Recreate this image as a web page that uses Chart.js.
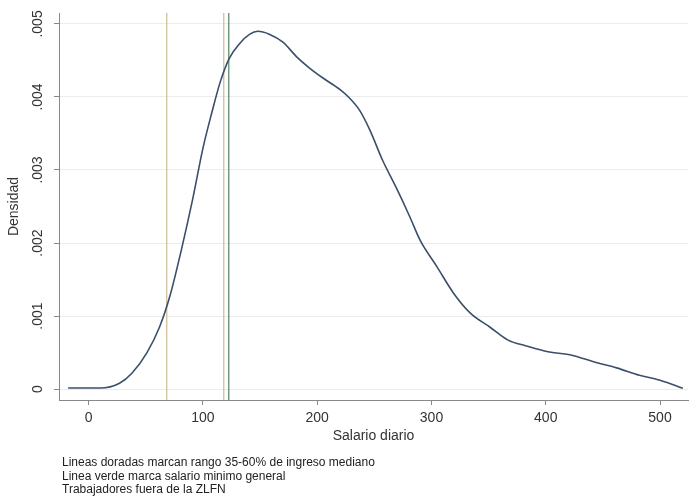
<!DOCTYPE html>
<html>
<head>
<meta charset="utf-8">
<script src="https://cdn.jsdelivr.net/npm/chart.js@4/dist/chart.umd.min.js"></script>
<style>
  html, body { margin: 0; padding: 0; background: #fff; }
  #wrap { width: 690px; height: 504px; }
</style>
</head>
<body>
<div id="wrap"><canvas id="chart" width="690" height="504"></canvas></div>
<script>
// kernel density of salario diario
var salario = [-18, 10, 27, 38, 51, 62, 71, 81, 91, 100, 108, 115, 123, 132, 141, 148, 158, 170, 182, 193, 205, 220, 228, 237, 246, 257, 270, 281, 290, 305, 319, 334, 351, 367, 383, 402, 421, 445, 462, 482, 500, 520];
var densidad = [0.000014, 0.000014, 0.00008, 0.00022, 0.0005, 0.00085, 0.00127, 0.0019, 0.0026, 0.0033, 0.0038, 0.0042, 0.00453, 0.00473, 0.00486, 0.0049, 0.00486, 0.00475, 0.00455, 0.0044, 0.00426, 0.0041, 0.00399, 0.00382, 0.00355, 0.00314, 0.00273, 0.00236, 0.00204, 0.00167, 0.00132, 0.00104, 0.00085, 0.00067, 0.00059, 0.00051, 0.00047, 0.00036, 0.00029, 0.00019, 0.00012, 0.00001];

var lineasDoradas = [68.3, 118.2];   // 35% y 60% del ingreso mediano
var lineaVerde = [122.6];            // salario minimo general

var xTicks = [0, 100, 200, 300, 400, 500];
var yTicks = [0, 0.001, 0.002, 0.003, 0.004, 0.005];
var yTickLabels = ['0', '.001', '.002', '.003', '.004', '.005'];

var notas = [
  'Lineas doradas marcan rango 35-60% de ingreso mediano',
  'Linea verde marca salario minimo general',
  'Trabajadores fuera de la ZLFN'
];

var X_MIN = -26, X_MAX = 524.5, Y_MIN = -0.00015, Y_MAX = 0.00515;

var curva = salario.map(function(v, i) { return {x: v, y: densidad[i]}; });

var vline = function(v, color) {
  return {
    data: [{x: v, y: Y_MIN}, {x: v, y: Y_MAX}],
    showLine: true,
    borderColor: color,
    borderWidth: 1.2,
    pointRadius: 0,
    order: 2
  };
};

var datasets = [];
lineasDoradas.forEach(function(v) { datasets.push(vline(v, '#cdbb92')); });
lineaVerde.forEach(function(v) { datasets.push(vline(v, '#4f8560')); });
datasets.push({
  data: curva,
  showLine: true,
  borderColor: '#3b4f6b',
  borderWidth: 1.6,
  pointRadius: 0,
  cubicInterpolationMode: 'monotone',
  order: 1
});

// y labels in Stata are turned on their side, chart.js can't do that on a y scale
var rotatedYLabels = {
  id: 'rotatedYLabels',
  afterDraw: function(chart) {
    var ctx = chart.ctx;
    var ys = chart.scales.y;
    ctx.save();
    ctx.font = '14px "Liberation Sans", Arial, sans-serif';
    ctx.fillStyle = '#333';
    ctx.textAlign = 'center';
    ctx.textBaseline = 'middle';
    yTicks.forEach(function(v, i) {
      var py = ys.getPixelForValue(v);
      ctx.save();
      ctx.translate(38, py);
      ctx.rotate(-Math.PI / 2);
      ctx.fillText(yTickLabels[i], 0, 0);
      ctx.restore();
    });
    // notes below the graph
    ctx.font = '12px "Liberation Sans", Arial, sans-serif';
    ctx.textAlign = 'left';
    ctx.fillStyle = '#222';
    notas.forEach(function(t, i) {
      ctx.fillText(t, 62, 463 + i * 13.5);
    });
    ctx.restore();
  }
};

new Chart(document.getElementById('chart'), {
  type: 'scatter',
  data: { datasets: datasets },
  plugins: [rotatedYLabels],
  options: {
    responsive: false,
    animation: false,
    layout: { padding: { top: 13, right: 2, bottom: 56, left: 0 } },
    plugins: { legend: { display: false }, tooltip: { enabled: false } },
    scales: {
      x: {
        type: 'linear',
        min: X_MIN,
        max: X_MAX,
        afterBuildTicks: function(s) { s.ticks = xTicks.map(function(v) { return {value: v}; }); },
        afterFit: function(s) { s.height = 48; },
        grid: { color: 'rgba(0,0,0,0)', tickColor: '#888', tickLength: 5, drawTicks: true },
        border: { color: '#888', width: 1 },
        ticks: { color: '#333', padding: 5, font: { family: '"Liberation Sans", Arial, sans-serif', size: 14 } },
        title: {
          display: true,
          text: 'Salario diario',
          color: '#333',
          padding: { top: 0, bottom: 3 },
          font: { family: '"Liberation Sans", Arial, sans-serif', size: 14 }
        }
      },
      y: {
        type: 'linear',
        min: Y_MIN,
        max: Y_MAX,
        afterBuildTicks: function(s) { s.ticks = yTicks.map(function(v) { return {value: v}; }); },
        afterFit: function(s) { s.width = 59; },
        grid: { color: '#ececec', tickColor: '#888', tickLength: 5, drawTicks: true },
        border: { color: '#888', width: 1 },
        ticks: { display: false },
        title: {
          display: true,
          text: 'Densidad',
          color: '#333',
          padding: { top: 6, bottom: 0 },
          font: { family: '"Liberation Sans", Arial, sans-serif', size: 14 }
        }
      }
    }
  }
});
</script>
</body>
</html>
